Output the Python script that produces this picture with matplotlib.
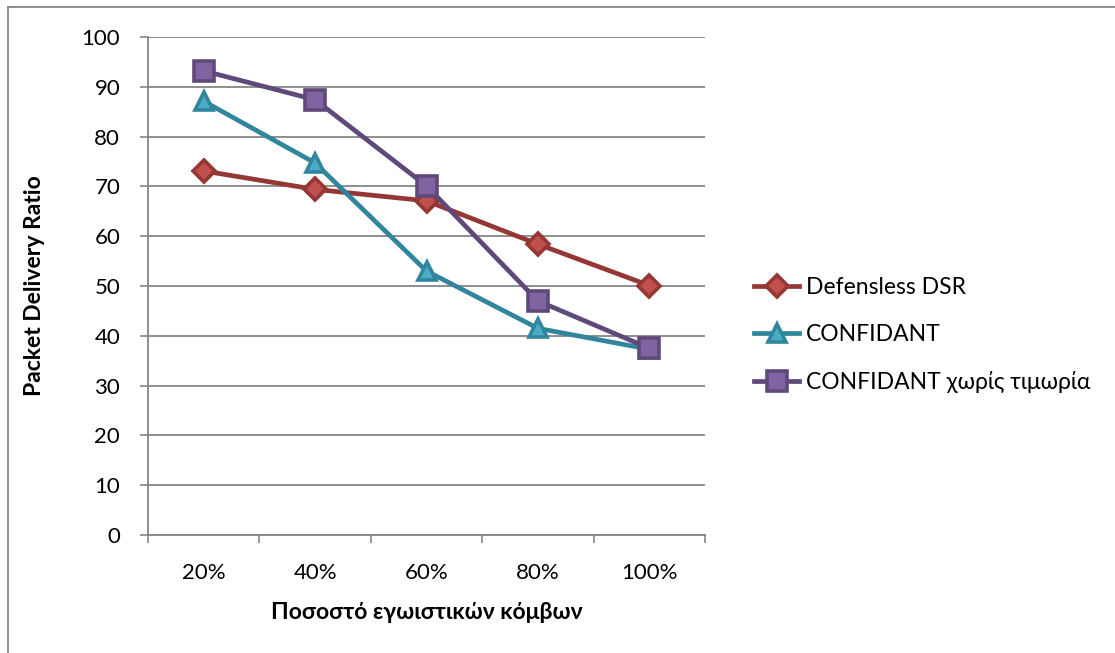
import matplotlib.pyplot as plt
from matplotlib.lines import Line2D

categories = ["20%", "40%", "60%", "80%", "100%"]
dsr = [73.1, 69.4, 67.1, 58.4, 50.1]
confidant = [87.1, 74.7, 53.0, 41.5, 37.3]
confidant_np = [93.2, 87.4, 70.1, 47.0, 37.5]

y_ticks = [0, 10, 20, 30, 40, 50, 60, 70, 80, 90, 100]

plt.rcParams['font.family'] = ['Lato', 'Open Sans', 'DejaVu Sans']

W, H = 1115, 653
fig = plt.figure(figsize=(W / 100, H / 100), dpi=100)
ax = fig.add_axes([148 / W, 1 - 535 / H, 557 / W, 498 / H])

x = list(range(1, len(categories) + 1))

series = [
    ("Defensless DSR", dsr, "#953735", "#C0504D", "D", 11),
    ("CONFIDANT", confidant, "#31859C", "#4BACC6", "^", 13),
    ("CONFIDANT χωρίς τιμωρία", confidant_np, "#5F497A", "#8064A2", "s", 14),
]

for label, vals, edge, face, mk, ms in series:
    ax.plot(x, vals, color=edge, linewidth=3.4, marker=mk, markersize=ms,
            markerfacecolor=face, markeredgecolor=edge, markeredgewidth=2.6,
            label=label, zorder=3)

ax.set_xlim(0.5, len(categories) + 0.5)
ax.set_ylim(0, 100)
ax.set_yticks(y_ticks)
ax.tick_params(axis='y', labelsize=16, length=6, width=1.2, color='#868686', pad=14)

# category boundaries as major ticks, labels as minor ticks
ax.set_xticks([i + 0.5 for i in range(0, len(categories) + 1)])
ax.set_xticklabels([])
ax.set_xticks(x, minor=True)
ax.set_xticklabels(categories, minor=True)
ax.tick_params(axis='x', which='major', length=6, width=1.2, color='#868686')
ax.tick_params(axis='x', which='minor', length=0, labelsize=16, pad=20)

ax.grid(axis='y', color='#868686', linewidth=1.3)
ax.set_axisbelow(True)
for s in ['top', 'right']:
    ax.spines[s].set_visible(False)
for s in ['left', 'bottom']:
    ax.spines[s].set_color('#868686')
    ax.spines[s].set_linewidth(1.3)

ax.set_ylabel("Packet Delivery Ratio", fontsize=16.5, fontweight='bold', labelpad=26)
ax.set_xlabel("Ποσοστό εγωιστικών κόμβων", fontsize=16.5, fontweight='bold', labelpad=14)

handles = [Line2D([0], [0], color=e, linewidth=3.4, marker=m, markersize=ms,
                  markerfacecolor=f, markeredgecolor=e, markeredgewidth=2.6)
           for _, _, e, f, m, ms in series]
fig.legend(handles, [s[0] for s in series], loc='center left',
           bbox_to_anchor=(733 / W, 1 - 335 / H), frameon=False, fontsize=16.5,
           handlelength=2.0, handletextpad=0.3, labelspacing=1.15)

# outer chart frame (left and top edges visible)
fig.add_artist(Line2D([8 / W, 8 / W], [0, 1 - 7 / H], color='#868686', linewidth=1.3))
fig.add_artist(Line2D([8 / W, 1], [1 - 7 / H, 1 - 7 / H], color='#868686', linewidth=1.3))

fig.savefig("out.png", dpi=100)
